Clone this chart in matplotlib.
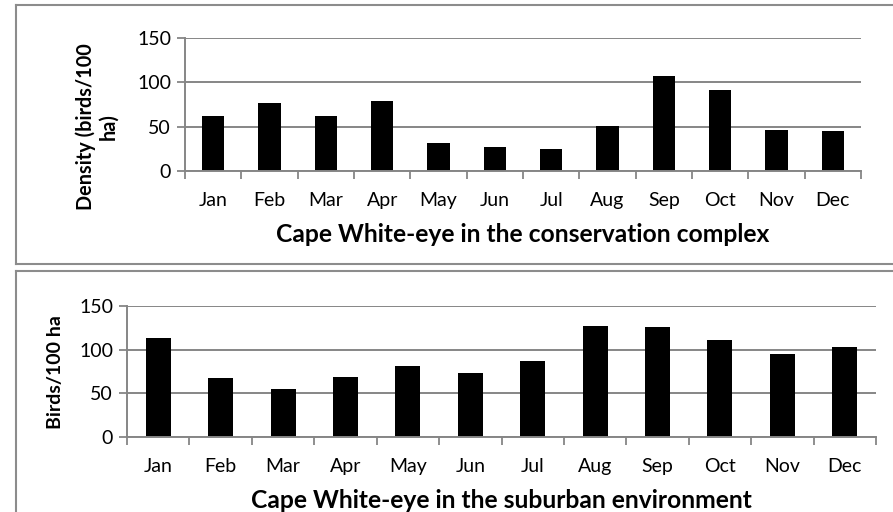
import numpy as np
import matplotlib
matplotlib.use('Agg')
import matplotlib.pyplot as plt
from matplotlib.lines import Line2D

months = ['Jan', 'Feb', 'Mar', 'Apr', 'May', 'Jun', 'Jul', 'Aug', 'Sep', 'Oct', 'Nov', 'Dec']
conservation = [62, 77, 62, 79, 32, 27, 25, 51, 107, 91, 46, 45]
suburban = [113, 68, 55, 69, 81, 73, 87, 127, 126, 111, 95, 103]
y_ticks = [0, 50, 100, 150]

plt.rcParams['font.family'] = ['Lato', 'DejaVu Sans']
grey = '#868686'


def draw_panel(ax, values, title):
    x = np.arange(len(months))
    ax.bar(x, values, width=0.4, color='black', zorder=3)
    ax.set_xlim(-0.5, len(months) - 0.5)
    ax.set_ylim(0, 150)
    ax.set_yticks(y_ticks)
    ax.set_xticks(x)
    ax.set_xticklabels(months)
    ax.set_xticks(np.arange(len(months) + 1) - 0.5, minor=True)
    ax.tick_params(axis='x', which='major', length=0, pad=15, labelsize=14)
    ax.tick_params(axis='x', which='minor', length=6, width=1.3, color=grey, direction='out')
    ax.tick_params(axis='y', length=6, width=1.3, color=grey, labelsize=14, pad=4)
    ax.grid(axis='y', color=grey, linewidth=1.4, zorder=0)
    for s in ['top', 'right']:
        ax.spines[s].set_visible(False)
    for s in ['left', 'bottom']:
        ax.spines[s].set_color(grey)
        ax.spines[s].set_linewidth(1.4)
        ax.spines[s].set_zorder(4)
    ax.set_xlabel(title, fontsize=17.7, fontweight='bold', labelpad=10)
    return ax


fig = plt.figure(figsize=(8.93, 5.12), dpi=100)

ax1 = fig.add_axes([0.2072, 0.666, 0.757, 0.2598])
draw_panel(ax1, conservation, 'Cape White-eye in the conservation complex')
fig.text(0.108, 1 - 127 / 512, 'Density (birds/100\nha)', rotation=90, ha='center', va='center',
         fontsize=14.3, fontweight='bold', linespacing=1.15)

ax2 = fig.add_axes([0.1422, 0.1465, 0.8388, 0.2559])
draw_panel(ax2, suburban, 'Cape White-eye in the suburban environment')
fig.text(0.062, 1 - 372 / 512, 'Birds/100 ha', rotation=90, ha='center', va='center',
         fontsize=14, fontweight='bold')

# panel borders
bc = '#8c8c8c'
x0 = 16 / 893
for y in [1 - 5 / 512, 1 - 264 / 512, 1 - 271 / 512]:
    fig.add_artist(Line2D([x0, 1], [y, y], color=bc, linewidth=1.5))
fig.add_artist(Line2D([x0, x0], [1 - 5 / 512, 1 - 264 / 512], color=bc, linewidth=1.5))
fig.add_artist(Line2D([x0, x0], [0, 1 - 271 / 512], color=bc, linewidth=1.5))

fig.savefig('out.png', dpi=100)
